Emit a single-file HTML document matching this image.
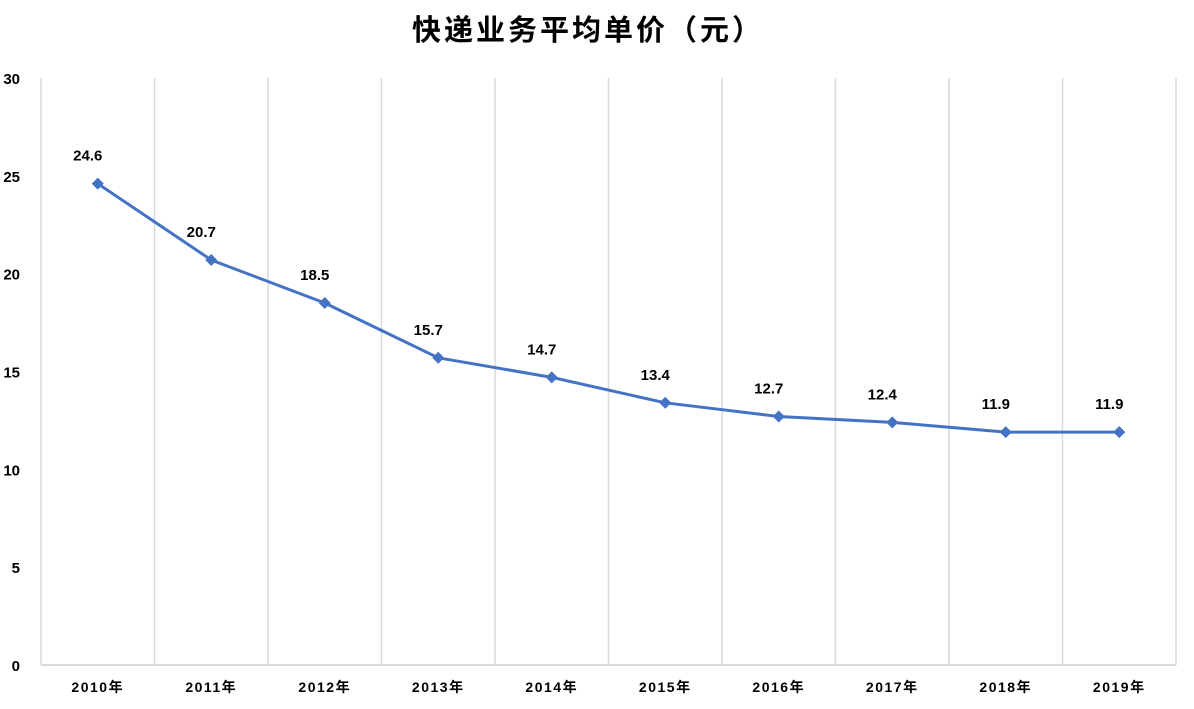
<!DOCTYPE html>
<html><head><meta charset="utf-8"><style>
body{margin:0;background:#fff;}
svg text{font-family:"Liberation Sans","Noto Sans CJK SC",sans-serif;font-weight:bold;fill:#000;}
</style></head><body>
<svg id="chart" width="1194" height="704" viewBox="0 0 1194 704" xmlns="http://www.w3.org/2000/svg">
<text x="588" y="40" text-anchor="middle" font-size="29" letter-spacing="3">快递业务平均单价（元）</text>
<g id="grid"></g><g id="axes"></g><g id="series"></g>
</svg>
<script>
const categories=["2010年","2011年","2012年","2013年","2014年","2015年","2016年","2017年","2018年","2019年"];
const values=[24.6,20.7,18.5,15.7,14.7,13.4,12.7,12.4,11.9,11.9];
const yTicks=[0,5,10,15,20,25,30];
const NS="http://www.w3.org/2000/svg";
const L=41,R=1176,T=78,B=665,yMax=30;
const bw=(R-L)/categories.length;
const x=i=>L+bw*(i+0.5);
const y=v=>B-(v/yMax)*(B-T);
function mk(tag,attrs,parent){const e=document.createElementNS(NS,tag);for(const k in attrs)e.setAttribute(k,attrs[k]);parent.appendChild(e);return e;}
const grid=document.getElementById('grid'),axes=document.getElementById('axes'),series=document.getElementById('series');
for(let i=0;i<=categories.length;i++){
  const gx=L+bw*i;
  const g=mk('line',{x1:gx,x2:gx,y1:T,y2:B,stroke:'#d9d9d9','stroke-width':1.5},grid);
  
  
}
const xa=mk('line',{x1:L,x2:R,y1:B,y2:B,stroke:'#d9d9d9','stroke-width':2},axes);


yTicks.forEach(t=>{
  const e=mk('text',{x:20,y:y(t)+6,'text-anchor':'end','font-size':15},axes);
  e.textContent=t;
  
  
});
categories.forEach((c,i)=>{
  const e=mk('text',{x:x(i),y:692,'text-anchor':'middle','font-size':14,'letter-spacing':'1.5'},axes);
  e.textContent=c;
  
  
});
const pl=mk('polyline',{points:values.map((v,i)=>x(i)+','+y(v)).join(' '),fill:'none',stroke:'#4472c4','stroke-width':3,'stroke-linejoin':'round'},series);


values.forEach((v,i)=>{
  const px=x(i),py=y(v),s=6;
  const m=mk('polygon',{points:`${px},${py-s} ${px+s},${py} ${px},${py+s} ${px-s},${py}`,fill:'#4472c4'},series);
  
  
  const lb=mk('text',{x:px-10,y:py-23,'text-anchor':'middle','font-size':15},series);
  lb.textContent=v.toFixed(1);
  
  
});
</script>
</body></html>
